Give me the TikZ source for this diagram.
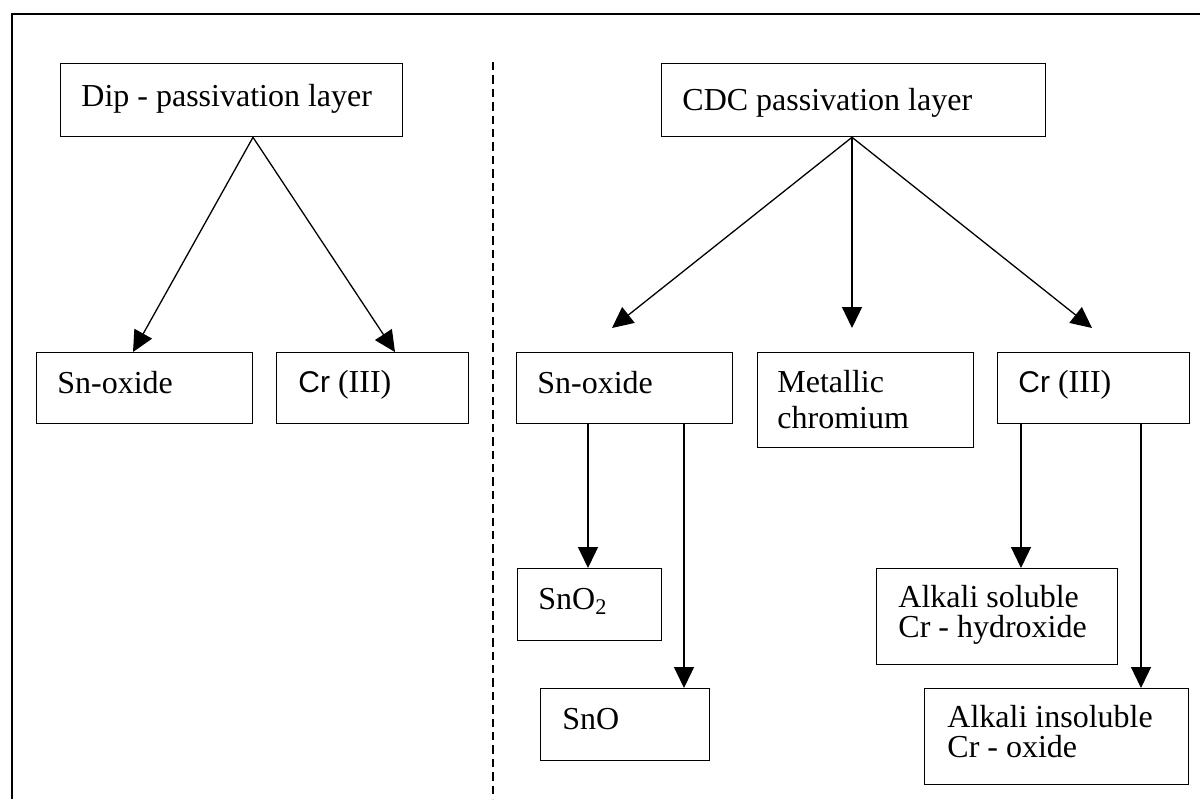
\documentclass[tikz,border=0pt]{standalone}
\usepackage{fontspec}
\setmainfont{Liberation Serif}
\newfontfamily\arialf{Liberation Sans}
\usetikzlibrary{arrows.meta,calc}
\begin{document}
\begin{tikzpicture}[x=0.5pt,y=-0.5pt,
  box/.style={draw, line width=0.65pt, inner sep=0pt, anchor=north west},
  txt/.style={anchor=base west, inner sep=0pt, font=\fontsize{16}{18}\selectfont},
  arr/.style={line width=0.65pt, -{Triangle[length=10.5pt,width=10pt]}},
  frame/.style={line width=0.85pt},
  sep/.style={line width=0.65pt, dash pattern=on 4.2pt off 2.5pt}]
\useasboundingbox (0,0) rectangle (1200,799);
% frame and separator
\draw[frame] (12,799) |- (1200,14);
\draw[sep] (493,62) -- (493,799);
% boxes
\node[box, minimum width=171pt, minimum height=36.5pt] (dip) at (60,63) {};
\node[box, minimum width=192pt, minimum height=36.5pt] (cdc) at (661,63) {};
\node[box, minimum width=108pt, minimum height=35.5pt] (snL) at (36,352) {};
\node[box, minimum width=96pt, minimum height=35.5pt] (crL) at (276,352) {};
\node[box, minimum width=108pt, minimum height=35.5pt] (snR) at (516,352) {};
\node[box, minimum width=108pt, minimum height=47.5pt] (met) at (757,352) {};
\node[box, minimum width=96pt, minimum height=35.5pt] (crR) at (997,352) {};
\node[box, minimum width=72pt, minimum height=36pt] (sno2) at (517,568) {};
\node[box, minimum width=84.5pt, minimum height=36pt] (sno) at (540,688) {};
\node[box, minimum width=120.5pt, minimum height=48pt] (alks) at (876,568) {};
\node[box, minimum width=132pt, minimum height=48pt] (alki) at (924,688) {};
% texts
\node[txt] (dipT) at (81,106) {Dip - passivation layer};
\node[txt] (cdcT) at (682,110) {CDC passivation layer};
\node[txt] (snLT) at (57,393) {Sn-oxide};
\node[txt] (crLT) at (298,392) {{\arialf\fontsize{15}{18}\selectfont Cr} (III)};
\node[txt] (snRT) at (537,393) {Sn-oxide};
\node[txt] (metT1) at (777,392) {Metallic};
\node[txt] (metT2) at (777,428) {chromium};
\node[txt] (crRT) at (1018,392) {{\arialf\fontsize{15}{18}\selectfont Cr} (III)};
\node[txt] (sno2T) at (538,609) {SnO\textsubscript{2}};
\node[txt] (snoT) at (562,729) {SnO};
\node[txt] (alksT1) at (898,607) {Alkali soluble};
\node[txt] (alksT2) at (898,637) {Cr - hydroxide};
\node[txt] (alkiT1) at (947,727) {Alkali insoluble};
\node[txt] (alkiT2) at (947,757) {Cr - oxide};
% connectors
\coordinate (dipS) at ($(dip.south west)+(193,0)$);
\draw[arr] (dipS) -- ($(snL.north west)+(97,0)$);
\draw[arr] (dipS) -- ($(crL.north west)+(119,0)$);
\coordinate (cdcS) at ($(cdc.south west)+(191,0)$);
\draw[arr] (cdcS) -- ($(snR.north west)+(96,-24)$);
\draw[arr] (cdcS) -- ($(met.north west)+(95,-24)$);
\draw[arr] (cdcS) -- ($(crR.north west)+(95,-24)$);
\draw[arr] ($(snR.south west)+(72,0)$) -- ($(sno2.north west)+(71,0)$);
\draw[arr] ($(snR.south west)+(168,0)$) -- ($(sno.north west)+(144,0)$);
\draw[arr] ($(crR.south west)+(24,0)$) -- ($(alks.north west)+(145,0)$);
\draw[arr] ($(crR.south west)+(144,0)$) -- ($(alki.north west)+(217,0)$);
\end{tikzpicture}
\end{document}
